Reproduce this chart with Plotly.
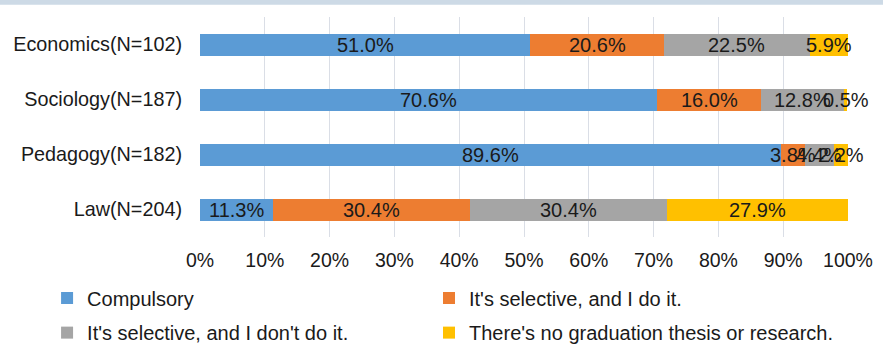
import plotly.graph_objects as go

categories = ["Economics(N=102)", "Sociology(N=187)", "Pedagogy(N=182)", "Law(N=204)"]
series_names = [
    "Compulsory",
    "It's selective, and I do it.",
    "It's selective, and I don't do it.",
    "There's no graduation thesis or research.",
]
compulsory = [51.0, 70.6, 89.6, 11.3]
selective_do = [20.6, 16.0, 3.8, 30.4]
selective_dont = [22.5, 12.8, 4.4, 30.4]
no_thesis = [5.9, 0.5, 2.2, 27.9]
colors = ["#5b9bd5", "#ed7d31", "#a5a5a5", "#ffc000"]
tick_vals = [0, 10, 20, 30, 40, 50, 60, 70, 80, 90, 100]
tick_text = [f"{v}%" for v in tick_vals]

series = [compulsory, selective_do, selective_dont, no_thesis]
FONT = "Liberation Sans, Arial, sans-serif"
TXT = "#1a1a1a"

# one legend box per series, laid out as a 2x2 grid under the axis
legend_ids = ["legend", "legend2", "legend3", "legend4"]
legend_pos = [(-0.236, -0.189), (0.3534, -0.189), (-0.236, -0.346), (0.3534, -0.346)]

fig = go.Figure()
for name, vals, col, lg in zip(series_names, series, colors, legend_ids):
    fig.add_trace(go.Bar(
        y=categories, x=vals, name=name, orientation="h",
        marker=dict(color=col, line=dict(width=0)),
        hoverinfo="x+name", legend=lg,
    ))

# value labels centred in each segment (allowed to overflow like Excel does)
annotations = []
for i, cat in enumerate(categories):
    cum = 0.0
    for vals in series:
        v = vals[i]
        annotations.append(dict(
            x=cum + v / 2, y=cat, xref="x", yref="y",
            text=f"{v:.1f}%",
            showarrow=False, font=dict(family=FONT, size=20, color=TXT),
        ))
        cum += v

legend_layout = {}
for lg, (lx, ly) in zip(legend_ids, legend_pos):
    legend_layout[lg] = dict(
        orientation="h", x=lx, y=ly, xanchor="left", yanchor="top",
        font=dict(family=FONT, size=20, color=TXT),
        itemwidth=30, bgcolor="rgba(0,0,0,0)",
    )

fig.update_layout(
    barmode="stack",
    bargap=0.6,
    width=883, height=355,
    margin=dict(l=200, r=35, t=17, b=118, autoexpand=False),
    paper_bgcolor="white", plot_bgcolor="white",
    font=dict(family=FONT, size=19.5, color=TXT),
    annotations=annotations,
    showlegend=True,
    **legend_layout,
    xaxis=dict(
        range=[0, 100], tickvals=tick_vals, ticktext=tick_text,
        showgrid=True, gridcolor="#dadee6", gridwidth=1,
        zeroline=False, showline=False, ticks="", ticklabelstandoff=9,
        tickfont=dict(family=FONT, size=19.5, color=TXT), fixedrange=True,
    ),
    yaxis=dict(
        categoryorder="array", categoryarray=categories[::-1],
        showgrid=False, zeroline=False, showline=False, ticks="",
        ticklabelstandoff=17,
        tickfont=dict(family=FONT, size=19.8, color=TXT), fixedrange=True,
    ),
    shapes=[dict(
        type="rect", xref="paper", yref="paper",
        x0=-0.32, x1=1.06, y0=1.056, y1=1.08,
        fillcolor="#cddae6", line=dict(width=0), layer="above",
    )],
)

fig.write_html("out.html")
